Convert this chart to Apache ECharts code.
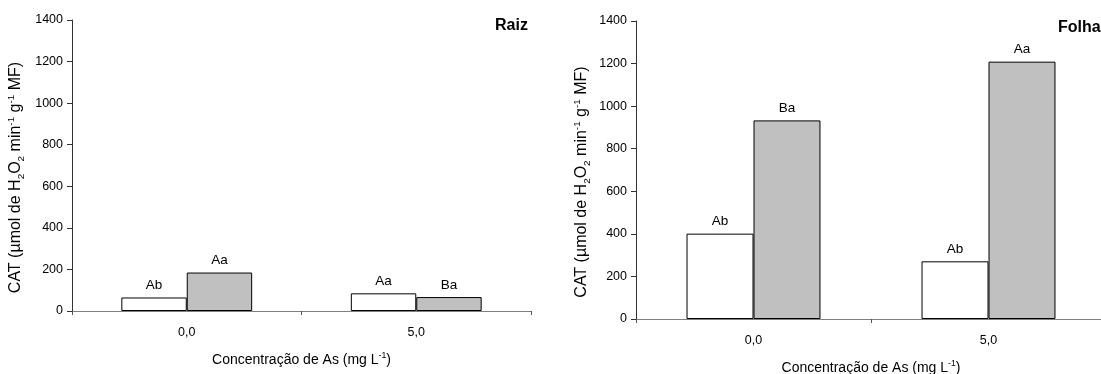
<!DOCTYPE html>
<html>
<head>
<meta charset="utf-8">
<script src="https://cdn.jsdelivr.net/npm/echarts@6/dist/echarts.min.js"></script>
<style>
  html, body { margin: 0; padding: 0; background: #fff; }
  #chart { width: 1101px; height: 374px; }
</style>
</head>
<body>
<div id="chart"></div>
<script>
// Catalase activity (CAT) in roots and leaves under two arsenic concentrations
const categories = ['0,0', '5,0'];
const yTicks = [0, 200, 400, 600, 800, 1000, 1200, 1400];

const raizWhite = [65, 85];
const raizGray = [185, 67];
const raizWhiteLetters = ['Ab', 'Aa'];
const raizGrayLetters = ['Aa', 'Ba'];

const folhaWhite = [401, 271];
const folhaGray = [933, 1209];
const folhaWhiteLetters = ['Ab', 'Ab'];
const folhaGrayLetters = ['Ba', 'Aa'];

const FONT = "'Liberation Sans', Arial, Helvetica, sans-serif";

const yName = 'CAT (µmol de H{sub|2}O{sub|2} min{sup|-1} g{sup|-1} MF)';
const xName = 'Concentração de As (mg L{sup|-1})';

function nameRich(size) {
  return {
    sub: { fontSize: size * 0.62, fontFamily: FONT, color: '#000', verticalAlign: 'bottom', lineHeight: size * 0.62 },
    sup: { fontSize: size * 0.62, fontFamily: FONT, color: '#000', verticalAlign: 'top', lineHeight: size * 0.62 }
  };
}

function xAxis(gridIndex) {
  return {
    type: 'category',
    gridIndex,
    data: categories,
    boundaryGap: true,
    axisLine: { lineStyle: { color: '#808080', width: 1 } },
    axisTick: { show: true, length: 4, lineStyle: { color: '#555' } },
    axisLabel: { color: '#000', fontSize: 12.5, fontFamily: FONT, margin: 15 },
    name: xName,
    nameLocation: 'middle',
    nameGap: 40,
    nameTextStyle: { color: '#000', fontSize: 14, fontFamily: FONT, lineHeight: 18, rich: nameRich(14) }
  };
}

function yAxis(gridIndex, gap) {
  return {
    type: 'value',
    gridIndex,
    min: 0,
    max: 1400,
    interval: 200,
    splitLine: { show: false },
    axisLine: { show: true, lineStyle: { color: '#333', width: 1 } },
    axisTick: { show: true, length: 5, lineStyle: { color: '#333' } },
    axisLabel: {
      color: '#000', fontSize: 12.5, fontFamily: FONT, margin: 9,
      formatter: v => (yTicks.includes(v) ? String(v) : '')
    },
    name: yName,
    nameLocation: 'middle',
    nameRotate: 90,
    nameGap: gap,
    nameTextStyle: {
      color: '#000', fontSize: 16, fontFamily: FONT, lineHeight: 20,
      padding: [0, 24, 0, 0],
      rich: nameRich(16)
    }
  };
}

function barSeries(axisIndex, values, letters, fill, border) {
  return {
    type: 'bar',
    xAxisIndex: axisIndex,
    yAxisIndex: axisIndex,
    data: values,
    barGap: '0%',
    barCategoryGap: '43%',
    itemStyle: { color: fill, borderColor: border, borderWidth: 1 },
    label: {
      show: true,
      position: 'top',
      distance: 5,
      color: '#000',
      fontSize: 13.5,
      fontFamily: FONT,
      formatter: p => letters[p.dataIndex]
    },
    emphasis: { disabled: true },
    animation: false
  };
}

const chart = echarts.init(document.getElementById('chart'), null, { renderer: 'canvas' });
chart.setOption({
  backgroundColor: '#fff',
  animation: false,
  title: [
    { text: 'Raiz', left: 490, top: 13, textStyle: { fontSize: 16, fontWeight: 'bold', fontFamily: FONT, color: '#000' } },
    { text: 'Folha', left: 1053, top: 15, textStyle: { fontSize: 16, fontWeight: 'bold', fontFamily: FONT, color: '#000' } }
  ],
  grid: [
    { left: 72, top: 20, right: 570, bottom: 63, containLabel: false, outerBoundsMode: 'none' },
    { left: 636, top: 21, right: -5, bottom: 55, containLabel: false, outerBoundsMode: 'none' }
  ],
  xAxis: [xAxis(0), xAxis(1)],
  yAxis: [yAxis(0, 46), yAxis(1, 44)],
  series: [
    barSeries(0, raizWhite, raizWhiteLetters, '#ffffff', '#000'),
    barSeries(0, raizGray, raizGrayLetters, '#c0c0c0', '#000'),
    barSeries(1, folhaWhite, folhaWhiteLetters, '#ffffff', '#000'),
    barSeries(1, folhaGray, folhaGrayLetters, '#c0c0c0', '#000')
  ]
});
</script>
</body>
</html>
